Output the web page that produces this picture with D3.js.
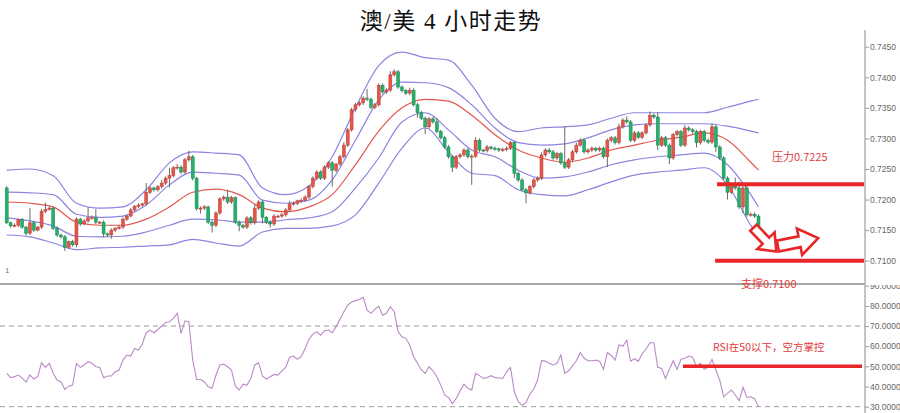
<!DOCTYPE html>
<html><head><meta charset="utf-8">
<script src="https://cdn.jsdelivr.net/npm/d3@7"></script>
<style>html,body{margin:0;padding:0;background:#fff;} svg{display:block}</style>
</head><body>
<svg id="c" width="900" height="413"></svg>
<script>
// ---------------- data ----------------
const titleText = "澳/美 4 小时走势";
const firstOpen = 0.7219;
const closes = [
0.7162,0.7157,0.7158,0.7167,0.7155,0.7145,0.7162,0.7150,0.7155,0.7181,
0.7184,0.7186,0.7153,0.7142,0.7139,0.7122,0.7131,0.7126,0.7168,0.7160,
0.7165,0.7170,0.7171,0.7163,0.7163,0.7144,0.7142,0.7150,0.7153,0.7155,
0.7168,0.7173,0.7183,0.7189,0.7191,0.7193,0.7212,0.7219,0.7216,0.7221,
0.7227,0.7235,0.7239,0.7252,0.7253,0.7245,0.7265,0.7270,0.7235,0.7185,
0.7186,0.7188,0.7163,0.7158,0.7178,0.7201,0.7204,0.7196,0.7203,0.7163,
0.7158,0.7155,0.7170,0.7162,0.7186,0.7196,0.7171,0.7163,0.7160,0.7173,
0.7173,0.7175,0.7183,0.7193,0.7194,0.7198,0.7199,0.7204,0.7221,0.7235,
0.7245,0.7235,0.7253,0.7260,0.7248,0.7258,0.7270,0.7289,0.7314,0.7347,
0.7355,0.7358,0.7366,0.7364,0.7351,0.7355,0.7387,0.7376,0.7379,0.7404,
0.7409,0.7384,0.7378,0.7374,0.7379,0.7355,0.7342,0.7333,0.7319,0.7332,
0.7327,0.7311,0.7301,0.7286,0.7270,0.7253,0.7270,0.7273,0.7281,0.7270,
0.7271,0.7297,0.7281,0.7280,0.7286,0.7284,0.7283,0.7281,0.7282,0.7284,
0.7293,0.7243,0.7232,0.7216,0.7211,0.7221,0.7232,0.7235,0.7273,0.7281,
0.7278,0.7268,0.7275,0.7260,0.7253,0.7265,0.7278,0.7289,0.7297,0.7278,
0.7281,0.7284,0.7281,0.7284,0.7270,0.7297,0.7301,0.7293,0.7319,0.7330,
0.7327,0.7297,0.7309,0.7302,0.7309,0.7322,0.7338,0.7335,0.7289,0.7301,
0.7289,0.7268,0.7306,0.7311,0.7289,0.7317,0.7314,0.7311,0.7293,0.7311,
0.7297,0.7294,0.7319,0.7286,0.7268,0.7235,0.7212,0.7224,0.7219,0.7188,
0.7219,0.7175,0.7176,0.7173,0.7139
];
// wick lengths above body top / below body bottom, in pips (0.0001)
const upWick = [
3,2,3,2,3,2,24,3,2,4, 11,3,2,3,2,3,2,3,3,2, 3,18,3,13,2,3,2,3,2,3, 3,2,3,2,3,2,15,3,2,3,
5,3,13,3,5,3,3,10,3,2, 3,3,2,3,3,3,3,12,3,2, 3,2,3,3,6,3,3,2,3,3, 2,3,3,5,3,2,3,3,3,3,
3,3,3,3,3,2,3,5,3,3, 3,3,3,15,3,3,3,3,3,6, 4,3,3,3,4,3,3,3,3,3, 3,6,3,3,3,3,3,3,3,3,
3,5,3,2,3,2,3,2,3,3, 3,3,3,3,3,3,3,3,4,3, 3,3,3,3,60,3,3,4,3,3, 3,3,2,3,3,3,3,3,5,3,
6,3,3,3,3,3,6,3,8,3, 3,3,3,3,3,5,3,3,3,3, 3,3,6,3,3,3,3,3,12,10, 3,3,3,3,3
];
const dnWick = [
2,3,2,3,3,4,3,3,2,3, 3,2,3,3,3,6,3,3,4,3, 2,3,3,3,3,6,3,6,3,2, 3,3,2,3,3,3,3,3,3,3,
3,3,15,3,3,3,3,3,4,3, 8,3,3,12,3,3,3,3,3,3, 10,3,3,3,3,3,10,3,6,3, 3,3,3,3,3,3,3,3,3,3,
3,3,3,3,27,3,3,3,3,3, 3,3,3,3,3,3,3,3,3,3, 3,3,3,3,3,3,8,3,12,3, 3,3,3,3,3,8,3,3,3,3,
46,3,3,3,3,3,3,3,3,3, 3,8,3,3,17,3,3,3,3,3, 3,3,3,3,3,3,3,3,3,3, 3,3,3,3,3,17,3,3,3,3,
3,3,3,3,3,3,3,3,8,3, 3,10,3,3,3,3,3,3,8,3, 3,3,3,8,3,3,12,3,3,3, 10,3,3,3,4
];
// band lines, read at every 6th candle (+ last)
const bandIdx = [0,6,12,18,24,30,36,42,48,54,60,66,72,78,84,90,96,102,108,114,120,126,132,138,144,150,156,162,168,174,180,186,192,194];
const bandUpper2 = [0.7248,0.7250,0.7239,0.7194,0.7186,0.7188,0.7216,0.7260,0.7278,0.7276,0.7273,0.7219,0.7208,0.7222,0.7270,0.7350,0.7419,0.7441,0.7432,0.7428,0.7387,0.7333,0.7311,0.7317,0.7319,0.7322,0.7333,0.7342,0.7342,0.7342,0.7342,0.7351,0.7361,0.7364];
const bandUpper1 = [0.7212,0.7211,0.7208,0.7176,0.7171,0.7173,0.7191,0.7224,0.7245,0.7243,0.7240,0.7199,0.7194,0.7199,0.7232,0.7297,0.7363,0.7392,0.7391,0.7383,0.7355,0.7317,0.7293,0.7289,0.7291,0.7301,0.7314,0.7322,0.7324,0.7324,0.7324,0.7320,0.7312,0.7309];
const bandMid    = [0.7196,0.7194,0.7188,0.7163,0.7158,0.7158,0.7168,0.7188,0.7212,0.7217,0.7208,0.7186,0.7180,0.7188,0.7208,0.7257,0.7312,0.7350,0.7364,0.7361,0.7338,0.7306,0.7281,0.7268,0.7261,0.7268,0.7281,0.7289,0.7297,0.7302,0.7309,0.7297,0.7261,0.7248];
const bandLower1 = [0.7170,0.7165,0.7157,0.7140,0.7139,0.7140,0.7147,0.7158,0.7168,0.7167,0.7163,0.7163,0.7167,0.7170,0.7180,0.7219,0.7268,0.7327,0.7342,0.7314,0.7281,0.7270,0.7248,0.7235,0.7237,0.7245,0.7257,0.7265,0.7270,0.7273,0.7276,0.7257,0.7208,0.7188];
const bandLower2 = [0.7142,0.7139,0.7129,0.7118,0.7121,0.7122,0.7124,0.7126,0.7135,0.7129,0.7124,0.7147,0.7153,0.7153,0.7157,0.7175,0.7227,0.7284,0.7317,0.7278,0.7243,0.7239,0.7216,0.7208,0.7206,0.7216,0.7229,0.7240,0.7245,0.7248,0.7252,0.7224,0.7158,0.7139];
const rsi = [
46.5,44.4,44.9,45.7,44.2,42.2,45.7,43.7,44.9,51.8,
49.5,51.5,46.5,43.2,42.4,38.6,40.2,40.7,51.5,49.5,
50.7,52.3,51.5,49.8,49.5,44.4,45.2,45.2,47.3,48.2,
53.1,55.6,55.1,58.9,58.1,61.1,66.7,68.0,66.7,68.3,
70.0,71.8,72.1,73.8,76.3,66.4,72.6,72.1,53.1,43.5,
43.5,42.4,39.9,39.1,45.7,50.7,51.1,49.8,48.2,40.2,
38.3,41.2,40.7,44.0,50.7,51.8,45.2,43.7,44.9,46.0,
45.7,47.8,49.5,54.5,55.1,53.5,54.8,58.9,63.4,66.0,
67.2,65.5,67.7,68.0,66.7,69.7,73.3,77.1,80.4,81.9,
82.6,83.2,84.2,77.9,76.3,78.3,79.9,75.4,76.3,79.6,
77.1,67.2,64.7,63.9,60.6,54.8,51.5,48.2,46.5,49.8,
47.8,44.9,40.7,35.8,34.6,31.6,34.1,37.9,41.2,39.1,
38.3,46.5,45.4,44.0,44.5,45.4,44.4,44.2,44.0,47.3,
49.5,37.4,32.5,30.7,32.0,36.3,38.7,43.2,52.8,52.6,
51.6,50.7,51.5,55.6,46.5,47.8,50.2,52.8,56.8,54.0,
52.8,52.8,53.1,52.5,48.5,56.9,55.4,53.1,60.6,60.1,
63.0,52.6,53.8,52.5,56.4,58.6,61.7,61.7,49.5,49.0,
44.0,48.5,52.8,48.5,53.5,54.0,55.1,54.5,49.8,51.5,
48.5,49.5,53.5,48.2,43.2,34.9,36.6,38.3,35.8,33.0,
39.6,34.6,34.9,34.0,30.0
];
const priceTicks = [0.7100,0.7150,0.7200,0.7250,0.7300,0.7350,0.7400,0.7450];
const rsiTicks = [30,40,50,60,70,80,90];
const rsiGuides = [70,30];
const resistance = 0.7225, support = 0.7100, rsiLevel = 50;
const resistanceLabel = "压力0.7225", supportLabel = "支撑0.7100", rsiLabel = "RSI在50以下，空方掌控";
const levelStartIdx = 183.3, rsiLevelStartIdx = 174.5;
// arrows: [fromIndex, fromPrice] -> [toIndex, toPrice]
const arrows = [
  {from:[192.7,0.7154], to:[198.6,0.7115], big:false},
  {from:[199.0,0.7124], to:[209.4,0.7137], big:true}
];

// ---------------- drawing ----------------
const svg = d3.select('#c');
const W = 900, H = 413;
const axisX = 865;
const x = d3.scaleLinear().domain([0, closes.length - 1]).range([6.7, 758.5]);
const y = d3.scaleLinear().domain([0.7100, 0.7450]).range([260.7, 46.7]);
const yr = d3.scaleLinear().domain([30, 90]).range([406.7, 285.7]);
const RED = '#e8262a';

// title
svg.append('text').attr('x', 451).attr('y', 29).attr('text-anchor','middle')
  .style('font-family',"'Liberation Serif','Noto Sans CJK SC',serif").style('font-size','23px')
  .style('letter-spacing','1.5px').attr('fill','#111')
  .attr('xml:space','preserve').text(titleText);

// bands
const bandLine = d3.line().x(d => x(d[0])).y(d => y(d[1])).curve(d3.curveMonotoneX);
const bands = [[bandUpper2,'#8c84e0'],[bandUpper1,'#8c84e0'],[bandMid,'#e2584c'],[bandLower1,'#8c84e0'],[bandLower2,'#8c84e0']];
bands.forEach(([arr,col]) => {
  svg.append('path').datum(bandIdx.map((k,j)=>[k,arr[j]])).attr('d', bandLine)
    .attr('fill','none').attr('stroke',col).attr('stroke-width',1.2);
});

// candles
const candles = closes.map((c,i) => {
  const o = i === 0 ? firstOpen : closes[i-1];
  return {i, o, c, h: Math.max(o,c) + upWick[i]/1e4, l: Math.min(o,c) - dnWick[i]/1e4};
});
const cg = svg.append('g');
cg.selectAll('line').data(candles).join('line')
  .attr('x1', d => x(d.i)).attr('x2', d => x(d.i))
  .attr('y1', d => y(d.h)).attr('y2', d => y(d.l))
  .attr('stroke', '#6a6a6a').attr('stroke-width', 1);
cg.selectAll('rect').data(candles).join('rect')
  .attr('x', d => x(d.i) - 1.5).attr('width', 3)
  .attr('y', d => y(Math.max(d.o,d.c)))
  .attr('height', d => Math.max(1, y(Math.min(d.o,d.c)) - y(Math.max(d.o,d.c))))
  .attr('fill', d => d.c >= d.o ? '#e2574c' : '#26b06c')
  .attr('stroke', d => d.c >= d.o ? '#c23b31' : '#17874f').attr('stroke-width', 0.5);

// small "1" marker
svg.append('text').attr('x',5).attr('y',273).text('1')
  .style('font-family','Liberation Sans, Arial, sans-serif').style('font-size','8px').attr('fill','#777');

// level lines
svg.append('line').attr('x1', x(levelStartIdx)).attr('x2', axisX - 1)
  .attr('y1', y(resistance)).attr('y2', y(resistance)).attr('stroke', RED).attr('stroke-width', 4);
svg.append('line').attr('x1', x(levelStartIdx - 0.5)).attr('x2', axisX - 1)
  .attr('y1', y(support)).attr('y2', y(support)).attr('stroke', RED).attr('stroke-width', 4);

// arrows
arrows.forEach(a => {
  const p0 = [x(a.from[0]), y(a.from[1])], p1 = [x(a.to[0]), y(a.to[1])];
  const L = Math.hypot(p1[0]-p0[0], p1[1]-p0[1]);
  const ang = Math.atan2(p1[1]-p0[1], p1[0]-p0[0]) * 180 / Math.PI;
  const s = a.big ? 5.5 : 4.5, hl = a.big ? 19 : 15, hh = a.big ? 13.5 : 12;
  const pts = [[0,-s],[L-hl,-s],[L-hl,-hh],[L,0],[L-hl,hh],[L-hl,s],[0,s]];
  svg.append('path').attr('d', 'M' + pts.map(p => p.join(',')).join('L') + 'Z')
    .attr('transform', `translate(${p0[0]},${p0[1]}) rotate(${ang})`)
    .attr('fill','#fff').attr('stroke', RED).attr('stroke-width', 2.6).attr('stroke-linejoin','miter');
});

// panel separator
svg.append('line').attr('x1',0).attr('x2',axisX).attr('y1',284).attr('y2',284)
  .attr('stroke','#8a8a8a').attr('stroke-width',1.5);

// annotation text
const annFont = "'Noto Sans CJK SC', sans-serif";
svg.append('text').attr('x', 772).attr('y', 161).text(resistanceLabel)
  .style('font-family',annFont).style('font-size','11px').attr('fill','#e23c3c');
svg.append('text').attr('x', 741).attr('y', 287.5).text(supportLabel)
  .style('font-family',annFont).style('font-size','11px').attr('fill','#e23c3c');

// RSI panel
svg.append('g').selectAll('line').data(rsiGuides).join('line')
  .attr('x1',0).attr('x2',axisX).attr('y1',d=>yr(d)).attr('y2',d=>yr(d))
  .attr('stroke','#9a9a9a').attr('stroke-width',1).attr('stroke-dasharray','5,4');
svg.append('path').datum(rsi).attr('d', d3.line().x((d,i)=>x(i)).y(d=>yr(d)))
  .attr('fill','none').attr('stroke','#b98ac6').attr('stroke-width',1.1);
svg.append('line').attr('x1', x(rsiLevelStartIdx)).attr('x2', axisX - 3)
  .attr('y1', yr(rsiLevel)).attr('y2', yr(rsiLevel)).attr('stroke', RED).attr('stroke-width', 3.5);
svg.append('text').attr('x', 713).attr('y', 351).text(rsiLabel)
  .style('font-family',annFont).style('font-size','10.5px').attr('fill','#e23c3c');

// axes
const axisFont = 'Liberation Sans, Arial, sans-serif';
const ga = svg.append('g').attr('transform',`translate(${axisX},0)`)
  .call(d3.axisRight(y).tickValues(priceTicks).tickFormat(d3.format('.4f')).tickSize(4).tickPadding(1));
const defs = svg.append('defs');
defs.append('clipPath').attr('id','rclip').append('rect').attr('x',0).attr('y',285).attr('width',W).attr('height',H-285);
const gb = svg.append('g').attr('clip-path','url(#rclip)').append('g').attr('transform',`translate(${axisX},0)`)
  .call(d3.axisRight(yr).tickValues(rsiTicks).tickFormat(d3.format('.4f')).tickSize(4).tickPadding(1));
[ga,gb].forEach(g => {
  g.select('.domain').remove();
  g.selectAll('.tick line').attr('stroke','#999');
  g.selectAll('.tick text').style('font-family',axisFont).style('font-size','8.5px').attr('fill','#666');
});
svg.append('line').attr('x1',axisX).attr('x2',axisX).attr('y1',30).attr('y2',H)
  .attr('stroke','#b0b0b0').attr('stroke-width',1.5);
</script>
</body></html>
